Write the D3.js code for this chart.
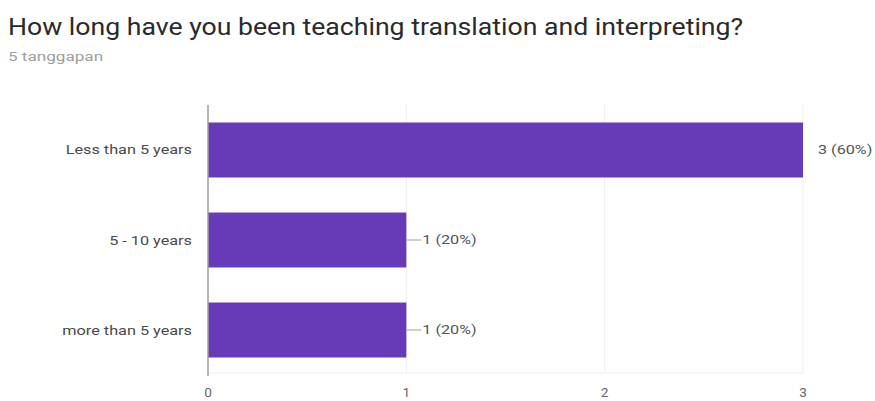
<!DOCTYPE html>
<html><head><meta charset="utf-8">
<script src="https://cdn.jsdelivr.net/npm/d3@7"></script>
<style>body{margin:0;background:#fff;}svg{display:block;font-family:Roboto,Arial,sans-serif;}</style>
</head><body><svg id="c" width="875" height="401"></svg>
<script>
const categories = ["Less than 5 years", "5 - 10 years", "more than 5 years"];
const counts = [3, 1, 1];
const labels = ["3 (60%)", "1 (20%)", "1 (20%)"];
const ticks = [0, 1, 2, 3];
const title = "How long have you been teaching translation and interpreting?";
const subtitle = "5 tanggapan";

const svg = d3.select("#c");
const x = d3.scaleLinear().domain([0, 3]).range([208, 803]);
const y = d3.scaleBand().domain(categories).range([105, 375]).paddingInner(0.389).paddingOuter(0.1944);

// text with horizontal stretch anchored at (tx, ty)
function stext(tx, ty, str, size, fill, sx, anchor) {
  return svg.append("text")
    .attr("transform", `translate(${tx},${ty}) scale(${sx},1)`)
    .attr("font-size", size).attr("fill", fill)
    .attr("text-anchor", anchor || "start").text(str);
}

stext(8, 35, title, 24, "#2a2a2a", 1.11);
stext(8, 61, subtitle, 12.5, "#9e9e9e", 1.37);

// grid
svg.append("g").selectAll("line").data(ticks.slice(1)).join("line")
  .attr("x1", d => x(d)).attr("x2", d => x(d)).attr("y1", 105).attr("y2", 373)
  .attr("stroke", "#efefef").attr("stroke-width", 1);
svg.append("line").attr("x1", 208).attr("x2", 803).attr("y1", 373).attr("y2", 373).attr("stroke", "#efefef");

// bars
svg.append("g").selectAll("rect").data(categories).join("rect")
  .attr("x", x(0)).attr("y", d => y(d)).attr("width", (d, i) => x(counts[i]) - x(0))
  .attr("height", y.bandwidth()).attr("fill", "#673ab7");

// axis line at 0
svg.append("line").attr("x1", x(0)).attr("x2", x(0)).attr("y1", 105).attr("y2", 376).attr("stroke", "#9e9e9e").attr("stroke-width", 1.5);

// category labels
categories.forEach(c => {
  stext(192, y(c) + y.bandwidth() / 2 + 4.5, c, 13, "#4a4a4a", 1.25, "end");
});

// value labels with connectors
categories.forEach((c, i) => {
  const cy = y(c) + y.bandwidth() / 2;
  const bx = x(counts[i]);
  const full = counts[i] === d3.max(counts);
  if (!full) {
    svg.append("line").attr("x1", bx).attr("x2", bx + 15).attr("y1", cy).attr("y2", cy).attr("stroke", "#9e9e9e");
  }
  stext(full ? bx + 15 : bx + 16, cy + 4.2, labels[i], 12, "#555", 1.35);
});

// tick labels
ticks.forEach(d => stext(x(d), 397, d, 13, "#666", 1.05, "middle"));
</script></body></html>
